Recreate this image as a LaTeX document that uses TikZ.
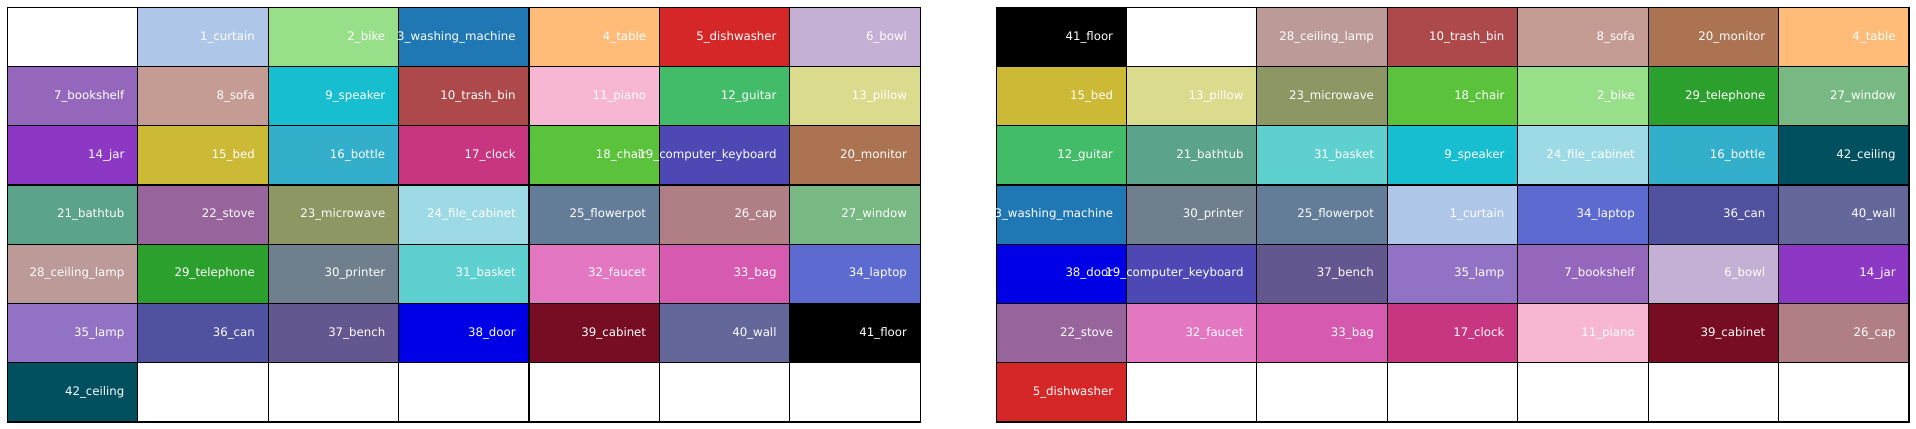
\documentclass[tikz,border=0pt]{standalone}
\usepackage{fontspec}
\setmainfont{DejaVu Sans}
\usepackage{tikz}
% one entry per class: number, name, fill colour
\newcommand\addcls[3]{\definecolor{C#1}{HTML}{#3}\expandafter\def\csname nm#1\endcsname{#1\_#2}}
\colorlet{C0}{white}
\addcls{1}{curtain}{AEC7E8}
\addcls{2}{bike}{98DF8A}
\addcls{3}{washing\_machine}{1F77B4}
\addcls{4}{table}{FFBB78}
\addcls{5}{dishwasher}{D62728}
\addcls{6}{bowl}{C5B0D5}
\addcls{7}{bookshelf}{9467BD}
\addcls{8}{sofa}{C49C94}
\addcls{9}{speaker}{17BECF}
\addcls{10}{trash\_bin}{AD494A}
\addcls{11}{piano}{F7B6D2}
\addcls{12}{guitar}{42BC68}
\addcls{13}{pillow}{DBDB8D}
\addcls{14}{jar}{8C38C4}
\addcls{15}{bed}{CCB935}
\addcls{16}{bottle}{33AECB}
\addcls{17}{clock}{C83580}
\addcls{18}{chair}{5BC23C}
\addcls{19}{computer\_keyboard}{4E48B5}
\addcls{20}{monitor}{AB7352}
\addcls{21}{bathtub}{5BA38A}
\addcls{22}{stove}{98649C}
\addcls{23}{microwave}{8C9764}
\addcls{24}{file\_cabinet}{9EDAE5}
\addcls{25}{flowerpot}{637D98}
\addcls{26}{cap}{B07F85}
\addcls{27}{window}{78B983}
\addcls{28}{ceiling\_lamp}{BB9A98}
\addcls{29}{telephone}{2CA02C}
\addcls{30}{printer}{6F7F8E}
\addcls{31}{basket}{5ED0D0}
\addcls{32}{faucet}{E377C2}
\addcls{33}{bag}{D55AB0}
\addcls{34}{laptop}{5D6AD0}
\addcls{35}{lamp}{9172C4}
\addcls{36}{can}{5052A0}
\addcls{37}{bench}{64568F}
\addcls{38}{door}{0000E6}
\addcls{39}{cabinet}{760D22}
\addcls{40}{wall}{64679A}
\addcls{41}{floor}{000000}
\addcls{42}{ceiling}{00505F}
\begin{document}
\begin{tikzpicture}[x=0.02cm,y=-0.02cm,
cell/.style={draw=black,line width=0.6pt,minimum width=2.6086cm,minimum height=1.1848cm,inner sep=0pt,outer sep=0pt},
lab/.style={text=white,anchor=east,inner sep=0pt,font=\fontsize{6.7}{8}\selectfont}]
\useasboundingbox (0,0) rectangle (1916,429);
% left table: classes in order
\foreach \n [count=\i from 0] in {0,1,2,3,4,5,6,7,8,9,10,11,12,13,14,15,16,17,18,19,20,21,22,23,24,25,26,27,28,29,30,31,32,33,34,35,36,37,38,39,40,41,42,0,0,0,0,0,0}{
  \pgfmathtruncatemacro\r{\i/7}\pgfmathtruncatemacro\c{mod(\i,7)}
  \node[cell,fill=C\n] (L\r\c) at ({7.3+130.43*(\c+0.5)},{7.3+59.24*(\r+0.5)}) {};}
% right table: reordered classes
\foreach \n [count=\i from 0] in {41,0,28,10,8,20,4,15,13,23,18,2,29,27,12,21,31,9,24,16,42,3,30,25,1,34,36,40,38,19,37,35,7,6,14,22,32,33,17,11,39,26,5,0,0,0,0,0,0}{
  \pgfmathtruncatemacro\r{\i/7}\pgfmathtruncatemacro\c{mod(\i,7)}
  \node[cell,fill=C\n] (R\r\c) at ({996+130.43*(\c+0.5)},{7.3+59.24*(\r+0.5)}) {};}
% labels last so that long ones run over the next cell
\foreach \n [count=\i from 0] in {0,1,2,3,4,5,6,7,8,9,10,11,12,13,14,15,16,17,18,19,20,21,22,23,24,25,26,27,28,29,30,31,32,33,34,35,36,37,38,39,40,41,42,0,0,0,0,0,0}{
  \pgfmathtruncatemacro\r{\i/7}\pgfmathtruncatemacro\c{mod(\i,7)}
  \ifnum\n>0 \node[lab] (tL\r\c) at ([xshift=-0.26cm]L\r\c.east) {\csname nm\n\endcsname}; \fi}
\foreach \n [count=\i from 0] in {41,0,28,10,8,20,4,15,13,23,18,2,29,27,12,21,31,9,24,16,42,3,30,25,1,34,36,40,38,19,37,35,7,6,14,22,32,33,17,11,39,26,5,0,0,0,0,0,0}{
  \pgfmathtruncatemacro\r{\i/7}\pgfmathtruncatemacro\c{mod(\i,7)}
  \ifnum\n>0 \node[lab] (tR\r\c) at ([xshift=-0.26cm]R\r\c.east) {\csname nm\n\endcsname}; \fi}
\end{tikzpicture}
\end{document}
